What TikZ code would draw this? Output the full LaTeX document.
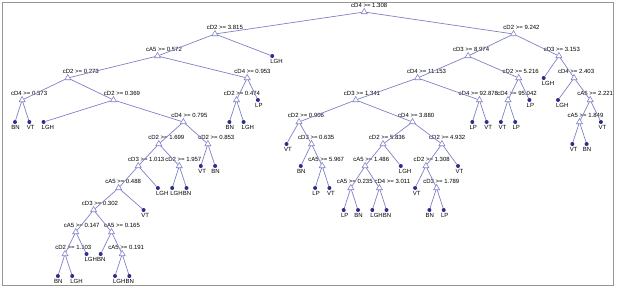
\documentclass[tikz,border=0pt]{standalone}
\usepackage{fontspec}
\setmainfont{Liberation Sans}
\usepackage{tikz}
\usetikzlibrary{shapes.geometric}

\definecolor{edgecol}{RGB}{128,128,198}
\definecolor{dotcol}{RGB}{45,45,140}
\definecolor{framecol}{RGB}{150,150,150}

\begin{document}
\begin{tikzpicture}[
    x=1pt, y=-1pt,
    split/.style 2 args={draw=edgecol, line width=0.55pt, regular polygon, regular polygon sides=3, minimum size=7pt, inner sep=0pt, label distance=0.8pt, label={[splitlab, xshift=#2]above:#1}},
    leaf/.style={circle, fill=dotcol, minimum size=4pt, inner sep=0pt, label distance=1.3pt, label={[leaflab, cls #1]below:#1}},
    splitlab/.style={font=\fontsize{6}{7}\selectfont, inner sep=0.5pt},
    leaflab/.style={font=\fontsize{6}{7}\selectfont, inner sep=0.5pt},
    cls LGH/.style={xshift=4.3pt}, cls BN/.style={xshift=0.5pt},
    cls VT/.style={xshift=1.5pt}, cls LP/.style={xshift=1pt},
    edge/.style={draw=edgecol, line width=0.7pt}
]
    \useasboundingbox (0,0) rectangle (617,288);
    \draw[framecol, line width=0.8pt] (2,2) rectangle (613,285.5);

    % root and first levels
    \node[split={cD4 >= 1.308}{5pt}] (root) at (364.2,12) {};
    \node[split={cD2 >= 3.815}{10pt}] (t3815) at (214.9,34) {};
    \node[split={cD2 >= 9.242}{8pt}] (t9242) at (513.5,34) {};
    \node[split={cA5 >= 0.572}{6.5pt}] (t0572) at (157.5,56) {};
    \node[split={cD3 >= 8.974}{3pt}] (t8974) at (468.1,56) {};
    \node[split={cD3 >= 3.153}{3pt}] (t3153) at (558.9,56) {};

    % left branch
    \node[split={cD2 >= 0.273}{13pt}] (t0273) at (67.8,78) {};
    \node[split={cD4 >= 0.953}{5.3pt}] (t0953) at (247.2,78) {};
    \node[split={cD4 >= 0.373}{7pt}] (t0373) at (22.1,100) {};
    \node[split={cD2 >= 0.369}{8.5pt}] (t0369) at (113.5,100) {};
    \node[split={cD2 >= 0.474}{5.5pt}] (t0474) at (236.5,100) {};
    \node[split={cD4 >= 0.795}{6pt}] (t0795) at (183.35,122) {};
    \node[split={cD2 >= 1.699}{7.5pt}] (t1699) at (158.8,144) {};
    \node[split={cD2 >= 0.853}{8.4pt}] (t0853) at (207.9,144) {};
    \node[split={cD3 >= 1.013}{8pt}] (t1013) at (138.25,166) {};
    \node[split={cD2 >= 1.957}{4pt}] (t1957) at (179.3,166) {};
    \node[split={cA5 >= 0.488}{4.5pt}] (t0488) at (118.6,188) {};
    \node[split={cD3 >= 0.302}{6.4pt}] (t0302) at (93.6,210) {};
    \node[split={cA5 >= 0.147}{6pt}] (t0147) at (75.7,232) {};
    \node[split={cA5 >= 0.165}{10.5pt}] (t0165) at (111.5,232) {};
    \node[split={cD2 >= 1.103}{8.3pt}] (t1103) at (65.0,254) {};
    \node[split={cA5 >= 0.191}{4pt}] (t0191) at (122.2,254) {};

    % right branch
    \node[split={cD4 >= 11.153}{9pt}] (t11153) at (417.6,78) {};
    \node[split={cD2 >= 5.216}{2pt}] (t5216) at (518.7,78) {};
    \node[split={cD4 >= 2.403}{2pt}] (t2403) at (574.1,78) {};
    \node[split={cD3 >= 1.341}{6.3pt}] (t1341) at (355.7,100) {};
    \node[split={cD4 >= 92.878}{-1pt}] (t92878) at (479.4,100) {};
    \node[split={cD4 >= 95.042}{9pt}] (t95042) at (508.0,100) {};
    \node[split={cA5 >= 2.221}{5pt}] (t2221) at (590.2,100) {};
    \node[split={cD2 >= 0.906}{7pt}] (t0906) at (299.0,122) {};
    \node[split={cD4 >= 3.880}{3.7pt}] (t3880) at (412.5,122) {};
    \node[split={cA5 >= 1.849}{6pt}] (t1849) at (579.5,122) {};
    \node[split={cD3 >= 0.635}{4.7pt}] (t0635) at (311.5,144) {};
    \node[split={cD2 >= 5.836}{4pt}] (t5836) at (383.0,144) {};
    \node[split={cD2 >= 4.932}{5.3pt}] (t4932) at (441.9,144) {};
    \node[split={cA5 >= 5.967}{4pt}] (t5967) at (322.2,166) {};
    \node[split={cA5 >= 1.486}{6.2pt}] (t1486) at (365.1,166) {};
    \node[split={cD2 >= 1.308}{5.8pt}] (t1308) at (425.9,166) {};
    \node[split={cA5 >= 0.235}{4pt}] (t0235) at (350.8,188) {};
    \node[split={cD4 >= 3.011}{13pt}] (t3011) at (379.4,188) {};
    \node[split={cD3 >= 1.789}{4.7pt}] (t1789) at (436.6,188) {};

    % leaves, left to right
    \node[leaf=BN] (l1) at (15.0,122) {};
    \node[leaf=VT] (l2) at (29.3,122) {};
    \node[leaf=LGH] (l3) at (43.6,122) {};
    \node[leaf=BN] (l4) at (57.9,276) {};
    \node[leaf=LGH] (l5) at (72.2,276) {};
    \node[leaf=LGH] (l6) at (86.5,254) {};
    \node[leaf=BN] (l7) at (100.7,254) {};
    \node[leaf=LGH] (l8) at (115.0,276) {};
    \node[leaf=BN] (l9) at (129.3,276) {};
    \node[leaf=VT] (l10) at (143.6,210) {};
    \node[leaf=LGH] (l11) at (157.9,188) {};
    \node[leaf=LGH] (l12) at (172.2,188) {};
    \node[leaf=BN] (l13) at (186.5,188) {};
    \node[leaf=VT] (l14) at (200.8,166) {};
    \node[leaf=BN] (l15) at (215.1,166) {};
    \node[leaf=BN] (l16) at (229.4,122) {};
    \node[leaf=LGH] (l17) at (243.6,122) {};
    \node[leaf=LP] (l18) at (257.9,100) {};
    \node[leaf=LGH] (l19) at (272.2,56) {};
    \node[leaf=VT] (l20) at (286.5,144) {};
    \node[leaf=BN] (l21) at (300.8,166) {};
    \node[leaf=LP] (l22) at (315.1,188) {};
    \node[leaf=VT] (l23) at (329.4,188) {};
    \node[leaf=LP] (l24) at (343.7,210) {};
    \node[leaf=BN] (l25) at (358.0,210) {};
    \node[leaf=LGH] (l26) at (372.3,210) {};
    \node[leaf=BN] (l27) at (386.5,210) {};
    \node[leaf=LGH] (l28) at (400.8,166) {};
    \node[leaf=VT] (l29) at (415.1,188) {};
    \node[leaf=BN] (l30) at (429.4,210) {};
    \node[leaf=LP] (l31) at (443.7,210) {};
    \node[leaf=VT] (l32) at (458.0,166) {};
    \node[leaf=LP] (l33) at (472.3,122) {};
    \node[leaf=VT] (l34) at (486.6,122) {};
    \node[leaf=VT] (l35) at (500.9,122) {};
    \node[leaf=LP] (l36) at (515.2,122) {};
    \node[leaf=LP] (l37) at (529.4,100) {};
    \node[leaf=LGH] (l38) at (543.7,78) {};
    \node[leaf=LGH] (l39) at (558.0,100) {};
    \node[leaf=VT] (l40) at (572.3,144) {};
    \node[leaf=BN] (l41) at (586.6,144) {};
    \node[leaf=VT] (l42) at (600.9,122) {};

    % Branches
    \foreach \a/\b in {root/t3815, root/t9242, t3815/t0572, t3815/l19,
        t0572/t0273, t0572/t0953, t0273/t0373, t0273/t0369, t0373/l1, t0373/l2,
        t0369/l3, t0369/t0795, t0795/t1699, t0795/t0853, t1699/t1013, t1699/t1957,
        t1013/t0488, t1013/l11, t0488/t0302, t0488/l10, t0302/t0147, t0302/t0165,
        t0147/t1103, t0147/l6, t1103/l4, t1103/l5, t0165/l7, t0165/t0191,
        t0191/l8, t0191/l9, t1957/l12, t1957/l13, t0853/l14, t0853/l15,
        t0953/t0474, t0953/l18, t0474/l16, t0474/l17,
        t9242/t8974, t9242/t3153, t8974/t11153, t8974/t5216,
        t11153/t1341, t11153/t92878, t1341/t0906, t1341/t3880,
        t0906/l20, t0906/t0635, t0635/l21, t0635/t5967, t5967/l22, t5967/l23,
        t3880/t5836, t3880/t4932, t5836/t1486, t5836/l28,
        t1486/t0235, t1486/t3011, t0235/l24, t0235/l25, t3011/l26, t3011/l27,
        t4932/t1308, t4932/l32, t1308/l29, t1308/t1789, t1789/l30, t1789/l31,
        t92878/l33, t92878/l34, t5216/t95042, t5216/l37, t95042/l35, t95042/l36,
        t3153/l38, t3153/t2403, t2403/l39, t2403/t2221, t2221/t1849, t2221/l42,
        t1849/l40, t1849/l41}
        \draw[edge] (\a) -- (\b);

\end{tikzpicture}
\end{document}
